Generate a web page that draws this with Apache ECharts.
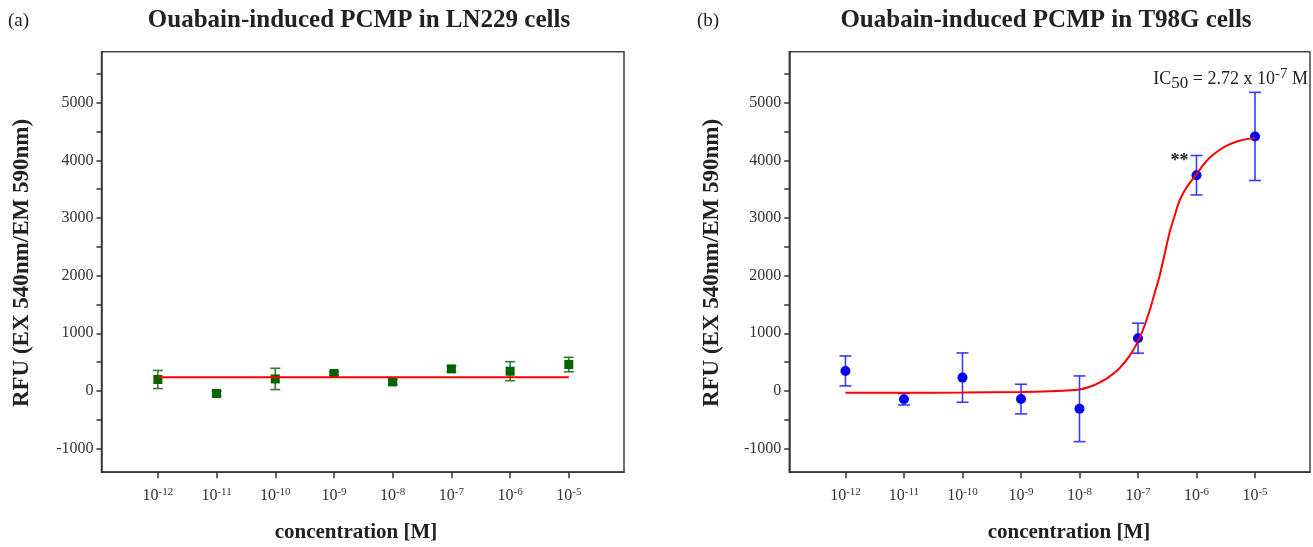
<!DOCTYPE html>
<html>
<head>
<meta charset="utf-8">
<script src="https://cdn.jsdelivr.net/npm/echarts@6/dist/echarts.min.js"></script>
<style>html,body{margin:0;padding:0;background:#fff;}#c{width:1313px;height:547px;}</style>
</head>
<body>
<div id="c"></div>
<script>
// ---- data ----
const exponents = [-12, -11, -10, -9, -8, -7, -6, -5];
const yTickLabels = [-1000, 0, 1000, 2000, 3000, 4000, 5000];
const yTickMarks = [-1000, -500, 0, 500, 1000, 1500, 2000, 2500, 3000, 3500, 4000, 4500, 5000, 5500];
const ln229Mean = [198, -45, 208, 302, 156, 382, 342, 458];
const ln229Err = [157, 40, 185, 30, 40, 50, 165, 125];
const ln229FitX = [-12, -5];
const ln229FitY = [238, 238];
const t98gMean = [347, -144, 231, -141, -310, 915, 3742, 4415];
const t98gErr = [260, 100, 428, 257, 570, 260, 342, 765];
const t98gFitX = [-12, -11, -10, -9, -8.5, -8.0, -7.8, -7.66, -7.5, -7.32, -7.15, -7.0, -6.9, -6.8, -6.7, -6.63, -6.55, -6.46, -6.37, -6.29, -6.2, -6.12, -6.0, -5.9, -5.78, -5.65, -5.49, -5.27, -5.0];
const t98gFitY = [-30, -30, -28, -20, -5, 25, 80, 145, 240, 390, 600, 860, 1100, 1400, 1750, 2000, 2350, 2750, 3050, 3300, 3480, 3600, 3760, 3900, 4040, 4150, 4250, 4340, 4390];

const SERIF = '"Liberation Serif", "DejaVu Serif", serif';
const chart = echarts.init(document.getElementById('c'), null, {renderer: 'canvas'});

function zip(a, b) { return a.map((v, i) => [v, b[i]]); }
function errData(m, e) { return exponents.map((x, i) => [x, m[i] - e[i], m[i] + e[i]]); }

function errRender(color, cap) {
  return function (params, api) {
    const x = api.value(0);
    const lo = api.coord([x, api.value(1)]);
    const hi = api.coord([x, api.value(2)]);
    const st = {stroke: color, lineWidth: 1.6};
    return {type: 'group', children: [
      {type: 'line', shape: {x1: lo[0], y1: lo[1], x2: hi[0], y2: hi[1]}, style: st},
      {type: 'line', shape: {x1: lo[0] - cap, y1: lo[1], x2: lo[0] + cap, y2: lo[1]}, style: st},
      {type: 'line', shape: {x1: hi[0] - cap, y1: hi[1], x2: hi[0] + cap, y2: hi[1]}, style: st}
    ]};
  };
}

function xAxisDef(idx) {
  return {
    type: 'value', gridIndex: idx, min: -12.96, max: -4.06,
    splitLine: {show: false},
    axisLine: {show: true, onZero: false, lineStyle: {color: '#333', width: 1.5}},
    axisTick: {show: true, customValues: exponents, length: 6, lineStyle: {color: '#333', width: 1.5}},
    axisLabel: {
      customValues: exponents, margin: 12, color: '#333',
      formatter: v => '{b|10}{s|' + v + '}',
      rich: {
        b: {fontFamily: SERIF, fontSize: 16, color: '#333', lineHeight: 20, verticalAlign: 'bottom'},
        s: {fontFamily: SERIF, fontSize: 11, color: '#333', lineHeight: 20, verticalAlign: 'bottom', padding: [0, 0, 7, 0]}
      }
    }
  };
}
function yAxisDef(idx) {
  return {
    type: 'value', gridIndex: idx, min: -1410, max: 5885,
    splitLine: {show: false},
    axisLine: {show: true, onZero: false, lineStyle: {color: '#333', width: 1.5}},
    axisTick: {show: true, customValues: yTickMarks, length: 5, lineStyle: {color: '#333', width: 1.5}},
    axisLabel: {customValues: yTickLabels, margin: 8, color: '#333', fontFamily: SERIF, fontSize: 16,
      formatter: v => String(v)}
  };
}

const txt = (text, x, y, size, weight, align, extra) => Object.assign({
  type: 'text', x: x, y: y,
  style: {text: text, fill: '#222', font: (weight || 'normal') + ' ' + size + 'px ' + SERIF,
          textAlign: align || 'center', textVerticalAlign: 'middle'}
}, extra || {});

chart.setOption({
  animation: false,
  backgroundColor: '#fff',
  grid: [
    {left: 101.5, top: 51.7, width: 522.5, height: 420.5, show: true, borderColor: '#444', borderWidth: 1.5},
    {left: 789.3, top: 51.7, width: 520.7, height: 420.5, show: true, borderColor: '#444', borderWidth: 1.5}
  ],
  xAxis: [xAxisDef(0), xAxisDef(1)],
  yAxis: [yAxisDef(0), yAxisDef(1)],
  series: [
    {type: 'custom', xAxisIndex: 0, yAxisIndex: 0, renderItem: errRender('#2f7f2f', 5), data: errData(ln229Mean, ln229Err), z: 2},
    {type: 'line', xAxisIndex: 0, yAxisIndex: 0, data: zip(ln229FitX, ln229FitY), showSymbol: false, lineStyle: {color: '#ff0000', width: 2}, z: 4},
    {type: 'scatter', xAxisIndex: 0, yAxisIndex: 0, data: zip(exponents, ln229Mean), symbol: 'rect', symbolSize: 9, itemStyle: {color: '#006400', opacity: 1}, z: 3},
    {type: 'custom', xAxisIndex: 1, yAxisIndex: 1, renderItem: errRender('#3b3bff', 6), data: errData(t98gMean, t98gErr), z: 2},
    {type: 'line', xAxisIndex: 1, yAxisIndex: 1, data: zip(t98gFitX, t98gFitY), showSymbol: false, smooth: 0.3, lineStyle: {color: '#ff0000', width: 2}, z: 4},
    {type: 'scatter', xAxisIndex: 1, yAxisIndex: 1, data: zip(exponents, t98gMean), symbol: 'circle', symbolSize: 10, itemStyle: {color: '#0000ff', opacity: 1}, z: 3,
      markPoint: {symbolSize: 0, data: [{coord: [exponents[6], t98gMean[6]]}],
        label: {show: true, formatter: '**', color: '#222', fontFamily: SERIF, fontSize: 18, fontWeight: 'bold', offset: [-17, -14]}}}
  ],
  graphic: [
    txt('(a)', 8, 21, 19, 'normal', 'left'),
    txt('(b)', 697, 21, 19, 'normal', 'left'),
    txt('Ouabain-induced PCMP in LN229 cells', 359, 21, 25, 'bold'),
    txt('Ouabain-induced PCMP in T98G cells', 1046, 21, 25, 'bold'),
    txt('concentration [M]', 356, 533, 21, 'bold'),
    txt('concentration [M]', 1069, 533, 21, 'bold'),
    txt('RFU (EX 540nm/EM 590nm)', 22, 263, 23, 'bold', 'center', {rotation: Math.PI / 2}),
    txt('RFU (EX 540nm/EM 590nm)', 712, 263, 23, 'bold', 'center', {rotation: Math.PI / 2}),
    {type: 'text', x: 1308, y: 79, style: {
      text: '{n|IC}{sub|50}{n| = 2.72 x 10}{sup|-7}{n| M}', textAlign: 'right', textVerticalAlign: 'middle',
      rich: {
        n: {fontFamily: SERIF, fontSize: 18, fill: '#222', lineHeight: 28, verticalAlign: 'middle'},
        sub: {fontFamily: SERIF, fontSize: 17, fill: '#222', lineHeight: 28, verticalAlign: 'top', padding: [10, 0, 0, 0]},
        sup: {fontFamily: SERIF, fontSize: 15, fill: '#222', lineHeight: 28, verticalAlign: 'bottom', padding: [0, 0, 11, 0]}
      }
    }}
  ]
});
</script>
</body>
</html>
